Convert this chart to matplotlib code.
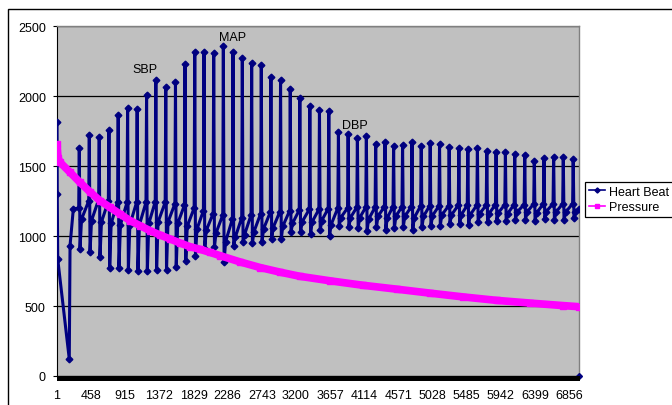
import matplotlib
matplotlib.use('Agg')
import matplotlib.pyplot as plt
from matplotlib.patches import Rectangle
from matplotlib.lines import Line2D

plt.rcParams['font.family'] = ['Liberation Sans', 'DejaVu Sans']

# ---------------- data ----------------
N_SAMPLES = 6990
x_tick_pos = [1, 458, 915, 1372, 1829, 2286, 2743, 3200, 3657, 4114,
              4571, 5028, 5485, 5942, 6399, 6856]
x_tick_labels = [str(v) for v in x_tick_pos]
y_ticks = [0, 500, 1000, 1500, 2000, 2500]

# Heart Beat: opening transient
intro_idx = [1, 4, 10, 165, 175, 219]
intro_val = [1812, 1300, 836, 121, 931, 1193]

# Heart Beat: per-beat readings
peak_idx = [299, 433, 566, 696, 820, 946, 1074, 1200, 1324, 1457,
            1587, 1715, 1845, 1969, 2099, 2228, 2357, 2482, 2607, 2736,
            2865, 2994, 3124, 3252, 3386, 3515, 3640, 3769, 3899, 4023,
            4143, 4268, 4393, 4508, 4628, 4754, 4878, 4998, 5123, 5252,
            5382, 5502, 5630, 5756, 5880, 6005, 6130, 6264, 6392, 6522,
            6651, 6780, 6913]
peak_val = [1629, 1724, 1707, 1757, 1862, 1917, 1910, 2010, 2112, 2062,
            2098, 2229, 2317, 2317, 2305, 2360, 2317, 2269, 2238, 2219,
            2138, 2114, 2050, 1988, 1929, 1902, 1890, 1745, 1731, 1702,
            1712, 1660, 1674, 1643, 1652, 1669, 1645, 1664, 1660, 1638,
            1629, 1621, 1631, 1605, 1598, 1600, 1586, 1581, 1538, 1557,
            1567, 1562, 1548]
trough_val = [907, 886, 848, 772, 768, 757, 750, 753, 755, 760,
              776, 824, 860, 907, 919, 814, 931, 955, 947, 955,
              979, 980, 1026, 1030, 1014, 1040, 1000, 1069, 1062, 1055,
              1038, 1062, 1045, 1055, 1067, 1045, 1062, 1069, 1074, 1086,
              1086, 1079, 1098, 1098, 1110, 1105, 1117, 1117, 1110, 1121,
              1112, 1112, 1126]
pre_val = [1200, 1250, 1260, 1250, 1245, 1240, 1240, 1240, 1245, 1240,
           1230, 1220, 1200, 1180, 1160, 1150, 1120, 1130, 1150, 1160,
           1170, 1175, 1180, 1185, 1190, 1190, 1195, 1200, 1200, 1205,
           1205, 1205, 1210, 1210, 1210, 1210, 1215, 1215, 1215, 1215,
           1220, 1220, 1220, 1220, 1225, 1225, 1225, 1225, 1230, 1230,
           1230, 1230, 1230]
recov_val = [1120, 1110, 1100, 1090, 1080, 1080, 1080, 1090, 1100, 1100,
             1090, 1070, 1050, 1040, 1020, 960, 990, 1010, 1030, 1050,
             1060, 1070, 1090, 1100, 1100, 1110, 1080, 1130, 1130, 1130,
             1120, 1140, 1130, 1140, 1140, 1130, 1140, 1145, 1150, 1150,
             1150, 1150, 1160, 1160, 1165, 1160, 1170, 1170, 1165, 1175,
             1170, 1170, 1175]
end_idx = [6985]
end_val = [1190]
last_idx = [6990]
last_val = [0]

# Pressure
press_idx = [1, 14, 41, 175, 308, 442, 576, 710, 844, 978,
             1112, 1246, 1380, 1514, 1647, 1781, 1915, 2049, 2183, 2451,
             2719, 2986, 3254, 3656, 4098, 4553, 4995, 5437, 5892, 6334,
             6776, 6990]
press_val = [1660, 1560, 1526, 1455, 1383, 1315, 1252, 1205, 1157, 1110,
             1074, 1038, 1007, 979, 950, 924, 905, 883, 860, 815,
             775, 742, 712, 680, 648, 620, 592, 565, 540, 521,
             503, 495]

annot_text = ['SBP', 'MAP', 'DBP']
annot_idx = [1178, 2350, 3984]
annot_val = [2193, 2418, 1795]

# ---------------- build heart-beat polyline ----------------
hx = list(intro_idx)
hy = list(intro_val)
for P, p, t, s, r in zip(peak_idx, peak_val, trough_val, pre_val, recov_val):
    hx += [P - 8, P, P + 10, P + 30]
    hy += [s, p, t, r]
hx += end_idx
hy += end_val

# ---------------- figure ----------------
W, H = 672, 406
fig = plt.figure(figsize=(W / 100, H / 100), dpi=100)
L, R, T, B = 57, 579, 27, 377
ax = fig.add_axes([L / W, 1 - B / H, (R - L) / W, (B - T) / H])
ax.set_facecolor('#C0C0C0')

navy = '#000080'
mag = '#FF00FF'

ax.plot(hx, hy, color=navy, lw=2.2, marker='D', ms=3.4, zorder=3,
        solid_joinstyle='round')
ax.plot(last_idx, last_val, linestyle='none', marker='D', ms=3,
        color=navy, clip_on=False, zorder=5)
ax.plot(press_idx, press_val, color=mag, lw=5.5, marker='s', ms=4,
        zorder=4, solid_capstyle='butt')

ax.set_xlim(0.5, N_SAMPLES + 0.5)
ax.set_ylim(0, 2500)
ax.set_yticks(y_ticks)
ax.set_yticklabels([str(v) for v in y_ticks], fontsize=9)
ax.set_xticks(x_tick_pos)
ax.set_xticklabels(x_tick_labels, fontsize=9)
ax.tick_params(axis='x', length=0, pad=9.5)
ax.tick_params(axis='y', length=3, width=0.8, pad=5, direction='out')
ax.yaxis.grid(True, color='black', lw=0.9)
ax.set_axisbelow(True)

for side in ['top', 'right']:
    ax.spines[side].set_color('#808080')
    ax.spines[side].set_linewidth(1)
ax.spines['left'].set_color('black')
ax.spines['bottom'].set_color('black')

for txt, xi, yi in zip(annot_text, annot_idx, annot_val):
    ax.text(xi, yi, txt, fontsize=9, ha='center', va='center', zorder=6)

# dense category tick band under the axis
fig.add_artist(Rectangle((L / W - 0.5 / W, 1 - 382 / H), (R - L + 1) / W, 5 / H,
                         transform=fig.transFigure, color='black', lw=0))

# chart area border
fig.add_artist(Rectangle((8 / W, -0.05), 1.2, 1 - 10 / H + 0.05,
                         transform=fig.transFigure, fill=False,
                         edgecolor='black', lw=1))

handles = [Line2D([], [], color=navy, lw=1.2, marker='D', ms=2.6),
           Line2D([], [], color=mag, lw=1.2, marker='s', ms=3.5)]
leg = fig.legend(handles, ['Heart Beat', 'Pressure'], loc='upper left',
                 bbox_to_anchor=(585 / W, 1 - 183 / H), bbox_transform=fig.transFigure,
                 fontsize=9, frameon=True, fancybox=False, framealpha=1,
                 edgecolor='black', borderpad=0.3, labelspacing=0.25,
                 handlelength=1.3, handletextpad=0.3, numpoints=1,
                 borderaxespad=0)
leg.get_frame().set_linewidth(0.9)

fig.savefig('out.png', dpi=100)
